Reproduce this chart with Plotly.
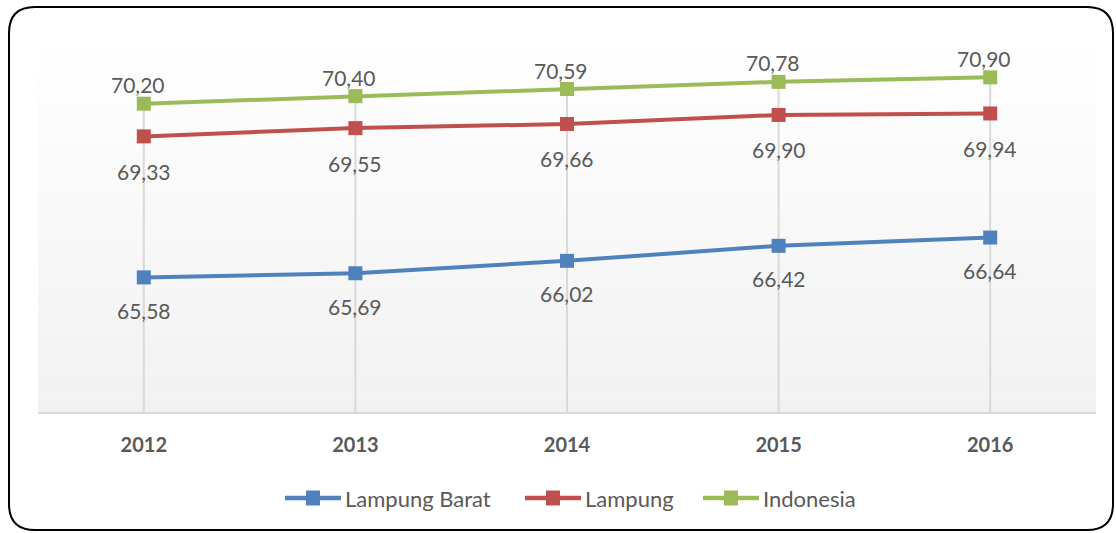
import plotly.graph_objects as go

years = ["2012", "2013", "2014", "2015", "2016"]
lampung_barat = [65.58, 65.69, 66.02, 66.42, 66.64]
lampung = [69.33, 69.55, 69.66, 69.90, 69.94]
indonesia = [70.20, 70.40, 70.59, 70.78, 70.90]

series = [
    ("Lampung Barat", lampung_barat, "#4f81bd", -33, 0),
    ("Lampung", lampung, "#c0504d", -35, 0),
    ("Indonesia", indonesia, "#9bbb59", 19, -6),
]
legend_starts_px = [285, 525, 703]  # layout: left edge of each legend symbol

W, H = 1116, 533
ML, MR, MT, MB = 38, 20, 36, 121
PW = W - ML - MR
PH = H - MT - MB
YMIN, YMAX = 62, 72
FONT = "Lato"
GREY = "#595959"

def px_x(px):
    return (px - ML) / PW

def px_y(py):
    return (H - MB - py) / PH

fig = go.Figure()

# drop lines from baseline to highest series
top_vals = [max(a, b, c) for a, b, c in zip(lampung_barat, lampung, indonesia)]
dx, dy = [], []
for yr, v in zip(years, top_vals):
    dx += [yr, yr, None]
    dy += [YMIN, v, None]
fig.add_trace(go.Scatter(x=dx, y=dy, mode="lines", line=dict(color="#d9d9d9", width=2),
                         showlegend=False, hoverinfo="skip"))

shapes = []
# gradient background strips
N = 60
for i in range(N):
    t = (i + 0.5) / N  # 0 at bottom, 1 at top
    c = int(round(241 + (255 - 241) * t))
    shapes.append(dict(
        type="rect", xref="x domain", yref="y domain",
        x0=0, x1=1, y0=i / N, y1=(i + 1) / N,
        fillcolor=f"rgb({c},{c},{c})", line=dict(width=0), layer="below",
    ))

LEG_Y = 498
for (name, vals, color, yshift, xshift), sx in zip(series, legend_starts_px):
    fig.add_trace(go.Scatter(
        x=years, y=vals, name=name, mode="lines+markers",
        line=dict(color=color, width=4),
        marker=dict(symbol="square", size=14, color=color),
        showlegend=False,
    ))
    for i, v in enumerate(vals):
        fig.add_annotation(
            x=i, y=v, xref="x", yref="y", text=f"{v:.2f}".replace(".", ","),
            showarrow=False, yshift=yshift, xshift=xshift,
            font=dict(family=FONT, size=21, color=GREY),
        )
    # custom legend entry (long line symbol with square marker)
    shapes.append(dict(type="line", xref="paper", yref="paper",
                       x0=px_x(sx), x1=px_x(sx + 56), y0=px_y(LEG_Y), y1=px_y(LEG_Y),
                       line=dict(color=color, width=4.5)))
    shapes.append(dict(type="rect", xref="paper", yref="paper",
                       x0=px_x(sx + 21), x1=px_x(sx + 35),
                       y0=px_y(LEG_Y + 7.5), y1=px_y(LEG_Y - 7.5),
                       fillcolor=color, line=dict(width=0)))
    fig.add_annotation(x=px_x(sx + 58), y=px_y(LEG_Y), xref="paper", yref="paper",
                       xanchor="left", yanchor="middle", showarrow=False, text=name,
                       font=dict(family=FONT, size=22, color=GREY))

# rounded border
L, T, R, B, r = 9, 7, 1113, 530, 26
def P(x, y):
    return f"{px_x(x):.5f},{px_y(y):.5f}"
path = (f"M {P(L + r, T)} L {P(R - r, T)} Q {P(R, T)} {P(R, T + r)} "
        f"L {P(R, B - r)} Q {P(R, B)} {P(R - r, B)} "
        f"L {P(L + r, B)} Q {P(L, B)} {P(L, B - r)} "
        f"L {P(L, T + r)} Q {P(L, T)} {P(L + r, T)} Z")
shapes.append(dict(type="path", xref="paper", yref="paper", path=path,
                   line=dict(color="#000000", width=2), layer="above"))

fig.update_layout(
    width=W, height=H,
    margin=dict(l=ML, r=MR, t=MT, b=MB),
    paper_bgcolor="white", plot_bgcolor="rgba(0,0,0,0)",
    shapes=shapes,
    showlegend=False,
    xaxis=dict(type="category", range=[-0.5, 4.5], showgrid=False, zeroline=False,
               showline=True, linecolor="#d9d9d9", linewidth=2,
               ticks="", ticklabelstandoff=14,
               tickfont=dict(family=FONT, size=20, color=GREY, weight="bold")),
    yaxis=dict(range=[YMIN, YMAX], visible=False, showgrid=False),
    hovermode=False,
)

fig.write_html("out.html", config={"displayModeBar": False},
               post_script="document.body.style.margin='0';document.body.style.overflow='hidden';")
